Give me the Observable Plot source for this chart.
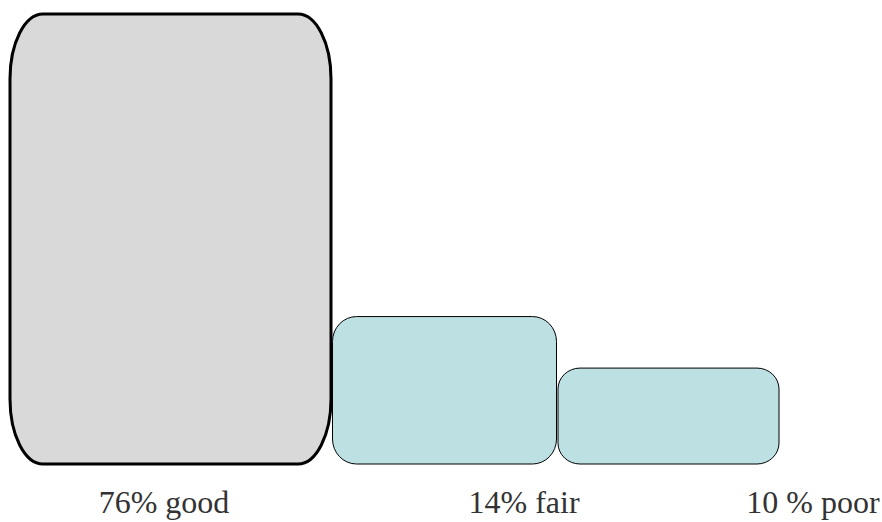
<!DOCTYPE html>
<html>
<head>
<meta charset="utf-8">
<script src="https://cdn.jsdelivr.net/npm/d3@7"></script>
<script src="https://cdn.jsdelivr.net/npm/@observablehq/plot@0.6"></script>
<style>
  html, body { margin: 0; padding: 0; background: #fff; }
</style>
</head>
<body>
<div id="chart"></div>
<script>
// Data
const labels = ["76% good", "14% fair", "10 % poor"];
const values = [76, 14, 10];
// Drawn bar heights (in % units, as they appear) and relative widths
const barHeights = [76, 24.9, 16.2];
const barWidths = [3.21, 2.24, 2.21];

const gap = 0.015;
let acc = 0;
const data = labels.map((label, i) => {
  const x1 = acc;
  const x2 = acc + barWidths[i];
  acc = x2 + gap;
  return {label, value: values[i], h: barHeights[i], x1, x2, xc: (x1 + x2) / 2};
});

const styles = [
  {fill: "#d9d9d9", stroke: "#000", strokeWidth: 3, rx: 33, ry: 65},
  {fill: "#bde0e2", stroke: "#000", strokeWidth: 1, rx: 24, ry: 25},
  {fill: "#bde0e2", stroke: "#000", strokeWidth: 1, rx: 22, ry: 21}
];
const labelDx = [-7, 79, 144];

const marks = [];
data.forEach((d, i) => {
  marks.push(Plot.rectY([d], {x1: "x1", x2: "x2", y1: 0, y2: "h", ...styles[i]}));
});
data.forEach((d, i) => {
  marks.push(Plot.text([d], {
    x: "xc", text: "label", frameAnchor: "bottom", lineAnchor: "top",
    dy: 26, dx: labelDx[i], fontSize: 32, fill: "#333",
    fontFamily: "Liberation Serif"
  }));
});

const chart = Plot.plot({
  width: 882,
  height: 522,
  marginTop: 14,
  marginBottom: 58,
  marginLeft: 10,
  marginRight: 0,
  x: {domain: [0, 8.72], axis: null},
  y: {domain: [0, 76], axis: null},
  marks
});
document.getElementById("chart").appendChild(chart);
</script>
</body>
</html>
